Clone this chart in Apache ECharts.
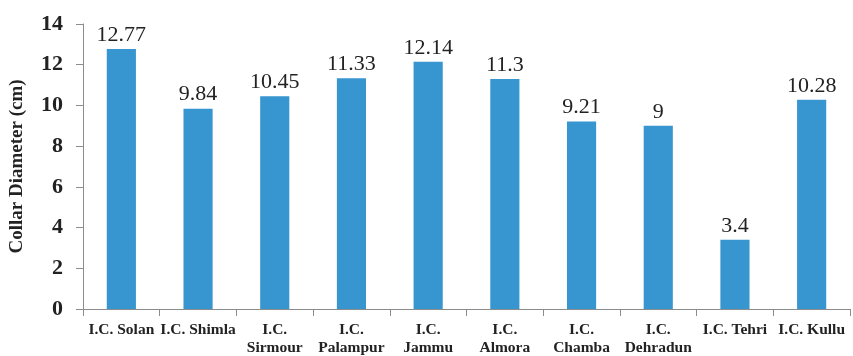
<!DOCTYPE html>
<html>
<head>
<meta charset="utf-8">
<script src="https://cdn.jsdelivr.net/npm/echarts@6/dist/echarts.min.js"></script>
<style>
  html, body { margin: 0; padding: 0; background: #fff; }
  #chart { width: 853px; height: 356px; }
</style>
</head>
<body>
<div id="chart"></div>
<script>
// Sources (categories) and mean collar diameter values
const categories = ['I.C. Solan', 'I.C. Shimla', 'I.C.\nSirmour', 'I.C.\nPalampur', 'I.C.\nJammu',
  'I.C.\nAlmora', 'I.C.\nChamba', 'I.C.\nDehradun', 'I.C. Tehri', 'I.C. Kullu'];
const collarDiameter = [12.77, 9.84, 10.45, 11.33, 12.14, 11.3, 9.21, 9, 3.4, 10.28];
const yTicks = [0, 2, 4, 6, 8, 10, 12, 14];

const serif = 'Liberation Serif';
const chart = echarts.init(document.getElementById('chart'));

chart.setOption({
  animation: false,
  textStyle: { fontFamily: serif },
  grid: { left: 83, right: 3, top: 24, bottom: 47, containLabel: false, outerBoundsMode: 'none' },
  xAxis: {
    type: 'category',
    data: categories,
    axisLine: { lineStyle: { color: '#8c8c8c', width: 1 } },
    axisTick: { show: true, alignWithLabel: false, length: 7, lineStyle: { color: '#8c8c8c' } },
    axisLabel: {
      interval: 0,
      margin: 12,
      color: '#222',
      fontFamily: serif,
      fontWeight: 'bold',
      fontSize: 15.5,
      lineHeight: 18
    }
  },
  yAxis: {
    type: 'value',
    min: yTicks[0],
    max: yTicks[yTicks.length - 1],
    interval: 2,
    name: 'Collar Diameter (cm)',
    nameLocation: 'middle',
    nameGap: 56,
    nameTextStyle: { fontFamily: serif, fontWeight: 'bold', fontSize: 19, color: '#222', padding: [0, 0, 0, 0] },
    axisLine: { show: true, lineStyle: { color: '#8c8c8c', width: 1 } },
    axisTick: { show: true, length: 7, lineStyle: { color: '#8c8c8c' } },
    splitLine: { show: false },
    axisLabel: {
      margin: 20,
      color: '#222',
      fontFamily: serif,
      fontWeight: 'bold',
      fontSize: 22
    }
  },
  series: [{
    type: 'bar',
    data: collarDiameter,
    barWidth: '38%',
    itemStyle: { color: '#3795cf' },
    label: {
      show: true,
      position: 'top',
      distance: 3,
      color: '#222',
      fontFamily: serif,
      fontWeight: 'normal',
      fontSize: 22
    }
  }]
});
</script>
</body>
</html>
